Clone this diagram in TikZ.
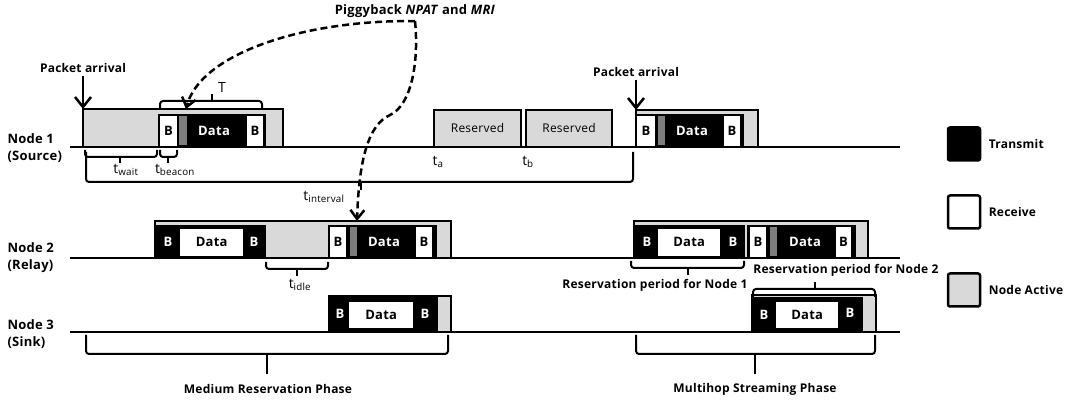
\documentclass[tikz,border=0pt]{standalone}
\usepackage{fontspec}
\setmainfont{Open Sans}[LetterSpace=2]
\usetikzlibrary{arrows.meta,positioning}
\definecolor{actgray}{RGB}{217,217,217}
\definecolor{slvgray}{RGB}{125,125,125}
\newcommand{\boxfont}{\fontsize{13}{15}\selectfont\bfseries}
\tikzstyle{box}=[anchor=south west,inner sep=0pt,outer sep=0pt,line width=2.5pt]
\tikzstyle{active}=[box,draw=black,fill=actgray]
\tikzstyle{tx}=[box,draw=black,fill=black,text=white,font=\boxfont]
\tikzstyle{rx}=[box,draw=black,fill=white,font=\boxfont]
\tikzstyle{datarx}=[anchor=south west,inner sep=0pt,fill=white,font=\boxfont]
\tikzstyle{sliver}=[anchor=south west,inner sep=0pt,fill=slvgray]
\tikzstyle{wtext}=[text=white,font=\boxfont]
\tikzstyle{tline}=[line width=2.5pt]
\tikzstyle{brk}=[line width=2pt,rounded corners=3pt]
\tikzstyle{parr}=[-{Straight Barb[length=10pt,width=16pt]},line width=2.5pt]
\tikzstyle{darr}=[-{Straight Barb[length=9pt,width=14pt]},line width=2.5pt,dash pattern=on 7pt off 4pt]
\tikzstyle{lab}=[font=\fontsize{12}{17}\selectfont\bfseries]
\tikzstyle{biglab}=[font=\fontsize{13}{17}\selectfont\bfseries]
\tikzstyle{tlab}=[font=\fontsize{14}{16}\selectfont]
\tikzstyle{legbox}=[draw=black,line width=2.5pt,rounded corners=2pt,minimum width=32pt,minimum height=33pt,inner sep=0pt]

\begin{document}
\begin{tikzpicture}[x=1pt,y=-1pt,font=\fontsize{12}{14}\selectfont]
	\useasboundingbox (0,0) rectangle (1074,403);

	% time lines
	\foreach \y in {147,258,332}
		\draw[tline] (70,\y) -- (900,\y);

	\node[biglab,align=left,anchor=west] (lbl1) at (4,148) {Node 1\\(Source)};
	\node[biglab,align=left,anchor=west] (lbl2) at (4,258) {Node 2\\(Relay)};
	\node[biglab,align=left,anchor=west] (lbl3) at (4,334) {Node 3\\(Sink)};

	% node 1
	\node[active,minimum width=200pt,minimum height=38pt] (n1act) at (83,147) {};
	\node[tx,minimum width=106pt,minimum height=32pt] (n1tx) at (159,147) {};
	\node[rx,minimum width=19pt,minimum height=32pt] (n1ba) at (159,147) {B};
	\node[sliver,minimum width=8pt,minimum height=29pt] (n1sl) at (179,145.5) {};
	\node[wtext] (n1dat) at (214,131) {Data};
	\node[rx,minimum width=18pt,minimum height=32pt] (n1bb) at (246,147) {B};

	\node[active,minimum width=87pt,minimum height=37pt] (res1) at (434,147) {Reserved};
	\node[active,minimum width=86pt,minimum height=37pt] (res2) at (526,147) {Reserved};

	\node[active,minimum width=122pt,minimum height=37pt] (n1act2) at (636,147) {};
	\node[tx,minimum width=107pt,minimum height=32pt] (n1tx2) at (636,147) {};
	\node[rx,minimum width=20pt,minimum height=32pt] (n1bc) at (636,147) {B};
	\node[sliver,minimum width=7pt,minimum height=29pt] (n1sl2) at (658,145.5) {};
	\node[wtext] (n1dat2) at (692,131) {Data};
	\node[rx,minimum width=18pt,minimum height=32pt] (n1bd) at (723,147) {B};

	% node 2
	\node[active,minimum width=296pt,minimum height=37pt] (n2act) at (155,258) {};
	\node[tx,minimum width=110pt,minimum height=32pt] (n2tx) at (155,258) {};
	\node[wtext] (n2ba) at (168,242) {B};
	\node[datarx,minimum width=63pt,minimum height=27pt] (n2dat) at (180,256) {Data};
	\node[wtext] (n2bb) at (254,242) {B};
	\node[tx,minimum width=107pt,minimum height=32pt] (n2tx2) at (329,258) {};
	\node[rx,minimum width=18pt,minimum height=32pt] (n2bc) at (329,258) {B};
	\node[sliver,minimum width=7pt,minimum height=29pt] (n2sl) at (350,256.5) {};
	\node[wtext] (n2dat2) at (384,242) {Data};
	\node[rx,minimum width=18pt,minimum height=32pt] (n2bd) at (415,258) {B};

	\node[active,minimum width=234pt,minimum height=37pt] (n2act2) at (634,258) {};
	\node[tx,minimum width=110pt,minimum height=32pt] (n2tx3) at (634,258) {};
	\node[wtext] (n2be) at (647,242) {B};
	\node[datarx,minimum width=62pt,minimum height=27pt] (n2dat3) at (658,256) {Data};
	\node[wtext] (n2bf) at (733,242) {B};
	\node[tx,minimum width=107pt,minimum height=32pt] (n2tx4) at (748,258) {};
	\node[rx,minimum width=18pt,minimum height=32pt] (n2bg) at (749,258) {B};
	\node[sliver,minimum width=7pt,minimum height=29pt] (n2sl2) at (770,256.5) {};
	\node[wtext] (n2dat4) at (805,242) {Data};
	\node[rx,minimum width=17pt,minimum height=32pt] (n2bh) at (835,258) {B};

	% node 3
	\node[active,minimum width=122pt,minimum height=36pt] (n3act) at (329,332) {};
	\node[tx,minimum width=108pt,minimum height=34pt] (n3tx) at (329,332) {};
	\node[wtext] (n3ba) at (340,314) {B};
	\node[datarx,minimum width=64pt,minimum height=26pt] (n3dat) at (349,328) {Data};
	\node[wtext] (n3bb) at (425,314) {B};

	\node[active,minimum width=124pt,minimum height=37pt] (n3act2) at (752,332) {};
	\node[tx,minimum width=110pt,minimum height=34pt] (n3tx2) at (752,332) {};
	\node[wtext] (n3bc) at (764,315) {B};
	\node[datarx,minimum width=62pt,minimum height=26pt] (n3dat2) at (776,328) {Data};
	\node[wtext] (n3bd) at (850,313) {B};

	% packet arrivals
	\node[lab] (pa1) at (83,68) {Packet arrival};
	\node[lab] (pa2) at (636,72) {Packet arrival};
	\draw[parr] (n1act.north west |- pa1.south) -- (n1act.north west);
	\draw[parr] (n1act2.north west |- pa2.south) -- (n1act2.north west);

	% piggyback
	\node[biglab] (pig) at (415,11) {Piggyback \textit{NPAT} and \textit{MRI}};
	\coordinate (hitA) at (186,109);
	\coordinate (hitB) at (357,221);
	\draw[darr] (pig.south) .. controls (300,20) and (200,55) .. (hitA);
	\draw[darr] (pig.south) .. controls (419,60) and (412,105) .. (390,115)
		.. controls (368,125) and (359,160) .. (hitB);

	% braces
	\draw[brk] (160,108) |- (262,101) -- (262,108);
	\draw[brk] (212,101) -- (212,94);
	\node[tlab] (lT) at (222,88) {T};
	\draw[brk] (85,150) |- (157,157) -- (157,150);
	\draw[brk] (120,157) -- (120,163);
	\node[tlab] (lwait) at (126,170) {t\textsubscript{wait}};
	\draw[brk] (160,150) |- (177,157) -- (177,150);
	\draw[brk] (168,157) -- (168,163);
	\node[tlab] (lbeac) at (175,170) {t\textsubscript{beacon}};
	\draw[brk] (86,152) |- (633,182) -- (633,152);
	\draw[brk] (361,182) -- (361,190);
	\node[tlab] (lint) at (324,197) {t\textsubscript{interval}};
	\node[tlab] (lta) at (438,162) {t\textsubscript{a}};
	\node[tlab] (ltb) at (528,162) {t\textsubscript{b}};
	\draw[brk] (266,262) |- (328,269) -- (328,262);
	\draw[brk] (297,269) -- (297,276);
	\node[tlab] (lidle) at (300,285) {t\textsubscript{idle}};
	\draw[brk] (631,261) |- (744,268) -- (744,261);
	\draw[brk] (688,268) -- (688,275);
	\node[lab] (lres1) at (655,285) {Reservation period for Node 1};
	\draw[brk] (753,297) |- (875,289) -- (875,297);
	\draw[brk] (815,289) -- (815,282);
	\node[lab] (lres2) at (846,270) {Reservation period for Node 2};
	\draw[brk] (86,335) |- (448,354) -- (448,335);
	\draw[brk] (267,354) -- (267,374);
	\node[lab] (lmed) at (268,389) {Medium Reservation Phase};
	\draw[brk] (636,335) |- (875,354) -- (875,335);
	\draw[brk] (755,354) -- (755,374);
	\node[lab] (lmul) at (755,389) {Multihop Streaming Phase};

	% legend
	\node[legbox,fill=black] (lgtx) at (964,144) {};
	\node[lab,right=4pt of lgtx] (lgtxl) {Transmit};
	\node[legbox,fill=white] (lgrx) at (964,212) {};
	\node[lab,right=4pt of lgrx] (lgrxl) {Receive};
	\node[legbox,fill=actgray] (lgac) at (964,290) {};
	\node[lab,right=4pt of lgac] (lgacl) {Node Active};
\end{tikzpicture}
\end{document}
